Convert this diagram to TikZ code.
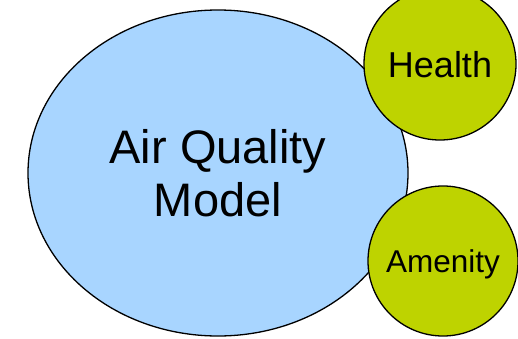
\documentclass[tikz,border=0pt]{standalone}
\usepackage{fontspec}
\setmainfont{Liberation Sans}
\usetikzlibrary{positioning,shapes.geometric}

\definecolor{modelblue}{RGB}{168,213,255}
\definecolor{effectgreen}{RGB}{190,211,0}

\begin{document}
\begin{tikzpicture}[x=1pt,y=1pt]
  \tikzstyle{every node}=[draw,line width=1.3pt]
  \tikzstyle{effect}=[circle,fill=effectgreen,inner sep=0pt,text depth=0pt]
  \useasboundingbox (0,0) rectangle (518,338);

  \node (model) [ellipse,fill=modelblue,minimum width=380pt,minimum height=326pt,
    align=center,font=\fontsize{47}{53}\selectfont] at (218,165) {Air Quality\\Model};

  \node (health) [effect,minimum size=152pt,font=\fontsize{36}{40}\selectfont] at (440,274) {Health};
  \node (amenity) [effect,minimum size=150pt,font=\fontsize{31.5}{36}\selectfont] at (443,77) {Amenity};

\end{tikzpicture}
\end{document}
